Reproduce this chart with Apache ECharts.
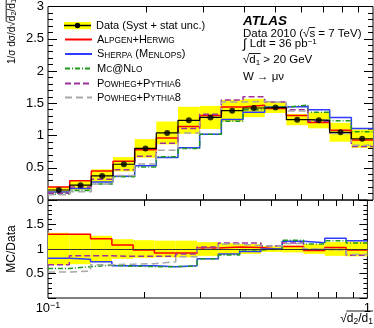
<!DOCTYPE html>
<html><head><meta charset="utf-8">
<script src="https://cdn.jsdelivr.net/npm/echarts@6/dist/echarts.min.js"></script>
<style>html,body{margin:0;padding:0;background:#fff}#c{width:374px;height:328px}</style>
</head><body><div id="c"></div>
<script>
// ---- data ----
const binEdges = [0.1,0.1166,0.1359,0.1585,0.1848,0.2154,0.2512,0.2929,0.3415,0.3981,0.4642,0.5412,0.6310,0.7356,0.8577,1.0];
const dataVals = [0.155,0.23,0.374,0.554,0.80,1.04,1.235,1.28,1.385,1.426,1.435,1.246,1.235,1.05,0.95];
const relUnc   = [0.33,0.31,0.27,0.20,0.18,0.17,0.17,0.14,0.12,0.10,0.06,0.07,0.10,0.14,0.15];

const alpgenTop = [0.20,0.30,0.45,0.60,0.78,0.96,1.14,1.31,1.44,1.47,1.42,1.31,1.20,1.08,0.93];
const sherpaTop = [0.125,0.18,0.28,0.37,0.53,0.66,0.81,1.02,1.25,1.36,1.44,1.45,1.40,1.28,1.11];
const mcnloTop  = [0.093,0.147,0.25,0.36,0.51,0.67,0.80,1.02,1.22,1.40,1.44,1.47,1.36,1.23,1.06];
const powheg6Top= [0.105,0.20,0.32,0.47,0.68,0.88,1.11,1.33,1.55,1.60,1.52,1.40,1.22,1.04,0.83];
const powheg8Top= [0.082,0.127,0.25,0.38,0.56,0.77,1.04,1.28,1.52,1.53,1.51,1.38,1.24,1.03,0.85];

const alpgenRatio = [1.30,1.30,1.21,1.08,0.98,0.92,0.92,1.02,1.04,1.03,0.99,1.05,0.97,1.03,0.98];
const sherpaRatio = [0.81,0.79,0.74,0.66,0.66,0.64,0.66,0.80,0.90,0.95,1.00,1.16,1.13,1.22,1.17];
const mcnloRatio  = [0.60,0.64,0.67,0.65,0.64,0.64,0.65,0.80,0.88,0.98,1.00,1.18,1.10,1.17,1.12];
const powheg6Ratio= [0.68,0.86,0.86,0.85,0.85,0.85,0.90,1.04,1.12,1.12,1.06,1.12,0.99,0.99,0.87];
const powheg8Ratio= [0.53,0.55,0.68,0.69,0.70,0.74,0.84,1.00,1.10,1.07,1.05,1.11,1.00,0.98,0.89];

const xMinorTicks = [0.2,0.3,0.4,0.5,0.6,0.7,0.8,0.9];
const DATA_NAME = 'Data (Syst + stat unc.)';
const mcNames = ['Alpgen+Herwig','Sherpa (Menlops)','Mc@Nlo','Powheg+Pythia6','Powheg+Pythia8'];
const mcLabels = [
  '{b|A}{s|LPGEN}{b|+H}{s|ERWIG}',
  '{b|S}{s|HERPA}{b| (M}{s|ENLOPS}{b|)}',
  '{b|M}{s|C}{b|@N}{s|LO}',
  '{b|P}{s|OWHEG}{b|+P}{s|YTHIA}{b|6}',
  '{b|P}{s|OWHEG}{b|+P}{s|YTHIA}{b|8}'
];

// ---- styling ----
const FONT = '"Liberation Sans", Arial, sans-serif';
const mcStyles = [
  {color:'#ff0000', type:'solid', width:1.5},
  {color:'#2f3bff', type:'solid', width:1.5},
  {color:'#1e9a1e', type:[5,2,1,2], width:1.5},
  {color:'#a0309c', type:[6,3], width:1.5},
  {color:'#a8a8a8', type:[7,4], width:1.5}
];
const binCenters = dataVals.map((_,i)=>Math.sqrt(binEdges[i]*binEdges[i+1]));
function stepData(vals){ return binEdges.map((e,i)=>[e, vals[Math.min(i, vals.length-1)]]); }

const mctx = document.createElement('canvas').getContext('2d');
function tw(t, size, pre){ mctx.font = (pre||'') + size + 'px "Liberation Sans"'; return mctx.measureText(t).width; }

function bandRender(params, api){
  const p0 = api.coord([api.value(0), api.value(3)]);
  const p1 = api.coord([api.value(1), api.value(2)]);
  return {type:'rect', shape:{x:p0[0], y:p0[1], width:p1[0]-p0[0], height:p1[1]-p0[1]}, style:{fill:'#ffff00'}};
}
function tickRender(params, api){
  const cs = params.coordSys;
  const x = Math.round(api.coord([api.value(0), api.value(1)])[0]) + 0.5;
  return {type:'group', children:[
    {type:'line', shape:{x1:x,y1:cs.y,x2:x,y2:cs.y+6}, style:{stroke:'#000',lineWidth:1}},
    {type:'line', shape:{x1:x,y1:cs.y+cs.height,x2:x,y2:cs.y+cs.height-6}, style:{stroke:'#000',lineWidth:1}}
  ]};
}

const series = [];
series.push({type:'custom', name:DATA_NAME, xAxisIndex:0, yAxisIndex:0, silent:true, z:1,
  itemStyle:{color:'#ffff00'},
  data: dataVals.map((v,i)=>[binEdges[i], binEdges[i+1], v*(1-relUnc[i]), v*(1+relUnc[i])]),
  encode:{x:[0,1], y:[2,3]}, renderItem: bandRender});
const tops = [alpgenTop, sherpaTop, mcnloTop, powheg6Top, powheg8Top];
const ratios = [alpgenRatio, sherpaRatio, mcnloRatio, powheg6Ratio, powheg8Ratio];
tops.forEach((arr,k)=>{
  series.push({type:'line', name:mcNames[k], xAxisIndex:0, yAxisIndex:0, data:stepData(arr), step:'end',
    symbol:'none', silent:true, z:3, lineStyle:mcStyles[k], itemStyle:{color:mcStyles[k].color}});
});
series.push({type:'line', name:'data-step', xAxisIndex:0, yAxisIndex:0, data:stepData(dataVals), step:'end',
  symbol:'none', silent:true, z:4, lineStyle:{color:'#000', width:1.2}});
series.push({type:'scatter', name:'data-points', xAxisIndex:0, yAxisIndex:0,
  data: binCenters.map((c,i)=>[c, dataVals[i]]), symbol:'circle', symbolSize:6, silent:true, z:6,
  itemStyle:{color:'#000'}});
// ratio panel
series.push({type:'custom', name:'ratio-band', xAxisIndex:1, yAxisIndex:2, silent:true, z:1,
  data: relUnc.map((u,i)=>[binEdges[i], binEdges[i+1], 1-u, 1+u]),
  encode:{x:[0,1], y:[2,3]}, renderItem: bandRender,
  markLine:{silent:true, symbol:'none', label:{show:false}, lineStyle:{color:'#333', width:1, type:'solid'}, data:[{yAxis:1}]}});
ratios.forEach((arr,k)=>{
  series.push({type:'line', name:'ratio-'+k, xAxisIndex:1, yAxisIndex:2, data:stepData(arr), step:'end',
    symbol:'none', silent:true, z:3, lineStyle:mcStyles[k]});
});
series.push({type:'custom', name:'ticks-top', xAxisIndex:0, yAxisIndex:0, silent:true, z:7,
  data: xMinorTicks.map(v=>[v,1]), encode:{x:0,y:1}, renderItem: tickRender});
series.push({type:'custom', name:'ticks-bot', xAxisIndex:1, yAxisIndex:2, silent:true, z:7,
  data: xMinorTicks.map(v=>[v,1]), encode:{x:0,y:1}, renderItem: tickRender});

// legends
const legendCenters = [25.5, 40, 54.5, 69, 84, 98];
const dataIconSvg = '<svg xmlns="http://www.w3.org/2000/svg" width="27" height="8"><rect x="0" y="0" width="27" height="8" fill="#ffff00"/><line x1="0" y1="4" x2="27" y2="4" stroke="#000" stroke-width="1.4"/><circle cx="13.5" cy="4" r="2.7" fill="#000"/></svg>';
const legends = [];
legends.push({left:64, top:legendCenters[0]-7, itemWidth:27, itemHeight:8, padding:0, selectedMode:false,
  data:[{name:DATA_NAME, icon:'image://data:image/svg+xml;charset=utf-8,'+encodeURIComponent(dataIconSvg)}],
  textStyle:{fontSize:11, fontFamily:FONT, color:'#000', lineHeight:14}});
mcNames.forEach((n,k)=>{
  legends.push({left:64, top:legendCenters[k+1]-6, itemWidth:27, itemHeight:12, padding:0, selectedMode:false,
    data:[n], formatter: ()=>mcLabels[k], itemStyle:{opacity:0},
    textStyle:{fontFamily:FONT, color:'#000', rich:{
      b:{fontSize:11, lineHeight:11, verticalAlign:'bottom', fontFamily:FONT, color:'#000'},
      s:{fontSize:8.3, lineHeight:8.3, verticalAlign:'bottom', fontFamily:FONT, color:'#000'}}}});
});

// graphic texts
const graphics = [];
const X0 = 243;
graphics.push({type:'text', x:X0, y:21.5, style:{text:'ATLAS', font:'italic bold 13.5px "Liberation Sans"', fill:'#000', textVerticalAlign:'middle'}});
graphics.push({type:'text', x:X0, y:33.5, style:{text:'Data 2010 (√s = 7 TeV)', font:'11.5px "Liberation Sans"', fill:'#000', textVerticalAlign:'middle'}});
(function(){
  const a = X0 + tw('Data 2010 (√', 11.5), b = a + tw('s', 11.5);
  graphics.push({type:'line', shape:{x1:a-0.5, y1:27.5, x2:b, y2:27.5}, style:{stroke:'#000', lineWidth:0.9}});
})();
graphics.push({type:'text', x:X0, y:44, style:{text:'{i|∫}{a| Ldt = 36 pb}{s|−1}', fill:'#000', textVerticalAlign:'middle',
  rich:{i:{fontSize:13, lineHeight:13, fontFamily:FONT}, a:{fontSize:11.5, lineHeight:13, fontFamily:FONT}, s:{fontSize:8, lineHeight:8, verticalAlign:'top', fontFamily:FONT}}}});
graphics.push({type:'text', x:X0, y:60, style:{text:'{a|√d}{b|1}{a| > 20 GeV}', fill:'#000', textVerticalAlign:'middle',
  rich:{a:{fontSize:11.5, lineHeight:13, fontFamily:FONT}, b:{fontSize:8, lineHeight:8, verticalAlign:'bottom', fontFamily:FONT}}}});
(function(){
  const a = X0 + tw('√', 11.5), b = X0 + tw('√d', 11.5) + tw('1', 8);
  graphics.push({type:'line', shape:{x1:a-0.5, y1:53.5, x2:b+0.5, y2:53.5}, style:{stroke:'#000', lineWidth:0.9}});
})();
graphics.push({type:'text', x:X0, y:77, style:{text:'W → μν', font:'11.5px "Liberation Sans"', fill:'#000', textVerticalAlign:'middle'}});

// y title (top panel), rotated
(function(){
  const fs = 10, fsub = 7.5;
  const pre = tw('1/σ dσ/d√', fs);
  const total = tw('1/σ dσ/d√d', fs) + tw('2', fsub) + tw('/d', fs) + tw('1', fsub);
  graphics.push({type:'group', x:12, y:64, rotation:Math.PI/2, children:[
    {type:'text', x:0, y:0, style:{text:'{a|1/σ dσ/d√d}{b|2}{a|/d}{b|1}', fill:'#000', textVerticalAlign:'middle',
      rich:{a:{fontSize:fs, lineHeight:11.5, fontFamily:FONT}, b:{fontSize:fsub, lineHeight:7.5, verticalAlign:'bottom', fontFamily:FONT}}}},
    {type:'line', shape:{x1:pre-0.5, y1:-5.8, x2:total, y2:-5.8}, style:{stroke:'#000', lineWidth:0.9}}
  ]});
})();
graphics.push({type:'text', x:12, y:249, rotation:Math.PI/2, style:{text:'MC/Data', font:'12px "Liberation Sans"', fill:'#000', textAlign:'center', textVerticalAlign:'middle'}});
// x title
(function(){
  const fs = 12, fsub = 8.5, xr = 373;
  const total = tw('√d', fs) + tw('2', fsub) + tw('/d', fs) + tw('1', fsub);
  const a = xr - total + tw('√', fs);
  graphics.push({type:'text', x:xr, y:319, style:{text:'{a|√d}{b|2}{a|/d}{b|1}', fill:'#000', textAlign:'right', textVerticalAlign:'middle',
    rich:{a:{fontSize:fs, lineHeight:14, fontFamily:FONT}, b:{fontSize:fsub, lineHeight:8.5, verticalAlign:'bottom', fontFamily:FONT}}}});
  graphics.push({type:'line', shape:{x1:a-0.5, y1:311, x2:xr, y2:311}, style:{stroke:'#000', lineWidth:0.9}});
})();

const yLabel = {fontSize:13, color:'#000', fontFamily:FONT, margin:4};
const option = {
  animation:false,
  backgroundColor:'#fff',
  grid:[
    {left:48, top:5, width:325, height:195, show:true, borderColor:'#000', borderWidth:1, backgroundColor:'transparent'},
    {left:48, top:200, width:325, height:98, show:true, borderColor:'#000', borderWidth:1, backgroundColor:'transparent'}
  ],
  xAxis:[
    {gridIndex:0, type:'log', logBase:10, min:0.1, max:1, axisLine:{show:false}, axisTick:{show:false}, axisLabel:{show:false}, splitLine:{show:false}},
    {gridIndex:1, type:'log', logBase:10, min:0.1, max:1, axisLine:{show:false}, axisTick:{show:false}, splitLine:{show:false},
      axisLabel:{show:true, margin:3, showMinLabel:true, showMaxLabel:true, color:'#000', fontFamily:FONT, fontSize:13,
        formatter:v=> Math.abs(v-0.1)<1e-6 ? '{a|10}{s|−1}' : (Math.abs(v-1)<1e-6 ? '{a|1}' : ''),
        rich:{a:{fontSize:13, lineHeight:15, fontFamily:FONT, color:'#000'}, s:{fontSize:9, lineHeight:9, verticalAlign:'top', fontFamily:FONT, color:'#000'}}}}
  ],
  yAxis:[
    {gridIndex:0, type:'value', min:0, max:3, interval:0.5, position:'left', axisLine:{show:false}, splitLine:{show:false},
      axisTick:{show:true, inside:true, length:9, lineStyle:{color:'#000'}}, minorTick:{show:true, splitNumber:5, length:5, lineStyle:{color:'#000'}},
      axisLabel:yLabel},
    {gridIndex:0, type:'value', min:0, max:3, interval:0.5, position:'right', axisLine:{show:false}, splitLine:{show:false},
      axisTick:{show:true, inside:true, length:9, lineStyle:{color:'#000'}}, minorTick:{show:true, splitNumber:5, length:5, lineStyle:{color:'#000'}},
      axisLabel:{show:false}},
    {gridIndex:1, type:'value', min:0, max:2, interval:0.5, position:'left', axisLine:{show:false}, splitLine:{show:false},
      axisTick:{show:true, inside:true, length:8, lineStyle:{color:'#000'}}, minorTick:{show:true, splitNumber:5, length:4, lineStyle:{color:'#000'}},
      axisLabel:Object.assign({}, yLabel, {formatter:v=> (v===0||v===2)?'':String(v)})},
    {gridIndex:1, type:'value', min:0, max:2, interval:0.5, position:'right', axisLine:{show:false}, splitLine:{show:false},
      axisTick:{show:true, inside:true, length:8, lineStyle:{color:'#000'}}, minorTick:{show:true, splitNumber:5, length:4, lineStyle:{color:'#000'}},
      axisLabel:{show:false}}
  ],
  legend: legends,
  graphic: graphics,
  series: series
};
const chart = echarts.init(document.getElementById('c'));
chart.setOption(option);
</script>
</body></html>
